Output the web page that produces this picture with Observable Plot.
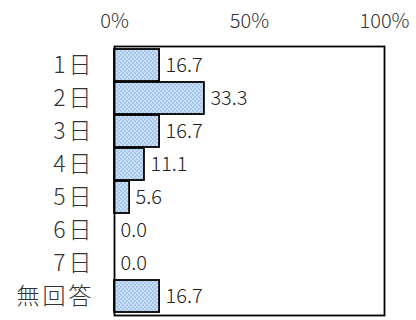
<!DOCTYPE html>
<html>
<head>
<meta charset="utf-8">
<script src="https://cdn.jsdelivr.net/npm/d3@7"></script>
<script src="https://cdn.jsdelivr.net/npm/@observablehq/plot@0.6"></script>
<style>
  body { margin: 0; background: #fff; }
  #chart svg { display: block; }
  #chart [aria-label="y-axis tick label"] text { letter-spacing: 3px; }
</style>
</head>
<body>
<div id="chart"></div>
<script>
const categories = ["1日", "2日", "3日", "4日", "5日", "6日", "7日", "無回答"];
const values = [16.7, 33.3, 16.7, 11.1, 5.6, 0.0, 0.0, 16.7];
const xTicks = [0, 50, 100];

const data = categories.map((c, i) => ({category: c, value: values[i]}));
const font = "'Noto Sans CJK JP', 'Noto Sans', sans-serif";

const chart = Plot.plot({
  width: 416,
  height: 320,
  marginTop: 46,
  marginBottom: 5,
  marginLeft: 114,
  marginRight: 32,
  style: {fontFamily: font, fontSize: "16px", color: "#222", background: "#fff"},
  x: {domain: [0, 100], label: null},
  y: {domain: categories, padding: 0.02, label: null},
  marks: [
    Plot.axisX(xTicks, {anchor: "top", tickFormat: d => d + "%", tickSize: 0, tickPadding: 19, fontSize: 20, fontWeight: 300, fill: "#333", label: null}),
    Plot.axisY({tickSize: 0, tickPadding: 20, fontSize: 23, fontWeight: 300, fill: "#333", label: null}),
    Plot.barX(data, {x: "value", y: "category", fill: "url(#dotpat)", stroke: "black", strokeWidth: 1.8}),
    Plot.text(data, {x: "value", y: "category", text: d => d.value.toFixed(1), textAnchor: "start", dx: 6, dy: 0, fill: "#222", fontSize: 20, fontWeight: 300}),
    Plot.frame({stroke: "black", strokeWidth: 1.8})
  ]
});

// pattern definition for the bar fill
const ns = "http://www.w3.org/2000/svg";
const defs = document.createElementNS(ns, "defs");
defs.innerHTML = `<pattern id="dotpat" width="4" height="4" patternUnits="userSpaceOnUse">
  <rect width="4" height="4" fill="#a6c6ec"/>
  <circle cx="1" cy="1" r="0.9" fill="#dbe9f8"/>
  <circle cx="3" cy="3" r="0.9" fill="#dbe9f8"/>
</pattern>`;
chart.insertBefore(defs, chart.firstChild);

document.getElementById("chart").appendChild(chart);
</script>
</body>
</html>
